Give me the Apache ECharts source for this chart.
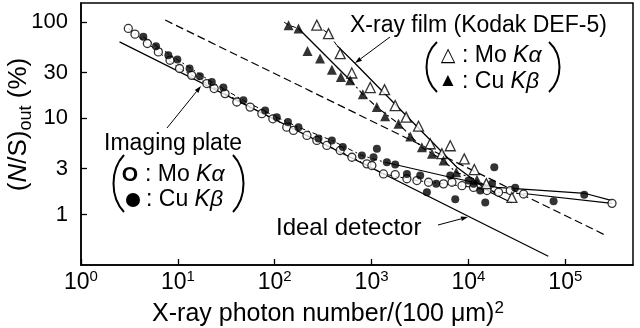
<!DOCTYPE html>
<html>
<head>
<meta charset="utf-8">
<script src="https://cdn.jsdelivr.net/npm/echarts@6/dist/echarts.min.js"></script>
<style>
html,body{margin:0;padding:0;background:#fff;}
#chart{width:640px;height:328px;}
</style>
</head>
<body>
<div id="chart"></div>
<script>
// values: [photons per (100 um)^2, (N/S)out in %]
var xTicks = [1, 10, 100, 1000, 10000, 100000];
var yTicks = [1, 3, 10, 30, 100];

// imaging plate, Mo K-alpha (open circles)
var ipMo = [[3.08,86],[3.61,75],[4.84,60],[6.29,49],[8.3,40.2],[10.4,33],[13.9,28],[19.9,23],
  [23.7,20.4],[30.7,18.1],[40.6,14.8],[55.7,13.1],[73.6,11.2],[95.6,9.9],[133,8.1],[156,7.5],
  [215,6.65],[272,5.9],[345,5.24],[474,4.64],[626,3.95],[894,3.37],[1007,3.24],[1327,2.65],
  [1753,2.61],[2316,2.36],[2938,2.26],[3871,2.17],[5530,2.09],[6760,2.17],[8570,2.0],
  [11290,1.92],[15530,1.78],[20470,1.71],[27030,1.78],[37100,1.64],[303600,1.31]];
// imaging plate, Cu K-beta (filled circles)
var ipCu = [[4.4,70.3],[5.95,56.2],[7.98,45.3],[9.88,40.8],[13.2,33],[16.9,27.4],[22.4,23.9],
  [29.5,20.9],[47.5,15.4],[79.6,12.1],[105,10.3],[137,9.15],[176,8.1],[283,6.2],[389,5.9],
  [505,5.03],[794,4.12],[1047,3.95],[1135,4.83],[1438,3.51],[1754,3.32],[2316,2.65],[3177,2.55],
  [3726,1.71],[4649,2.09],[6486,2.55],[7310,1.45],[10030,2.26],[11290,2.09],[13240,1.78],
  [14920,1.34],[17500,2.09],[18490,3.11],[30420,1.9],[75700,1.38],[157000,1.61]];
// X-ray film, Mo K-alpha (open triangles)
var filmMo = [[272,93],[359,76],[474,47],[625,29.6],[968,20.9],[1360,19.9],[1754,13.6],[2275,10.3],
  [3055,8.3],[4030,5.45],[5320,4.3],[6490,5.2],[9050,3.8],[11500,2.94],[15300,2.1],[28100,1.51]];
// X-ray film, Cu K-beta (filled triangles)
var filmCu = [[139,93],[176,86],[218,50],[294,41.9],[389,32],[482,26.9],[601,24.9],[812,17.8],
  [1133,13.1],[1380,10.5],[1897,8.8],[2506,6.5],[3306,5.0],[4197,4.28],[5533,3.65],[7480,2.75],
  [12240,2.3]];

// curves
var idealLine = [[2.5,62.4],[66700,0.37]];
var refDashed = [[7.4,105],[270000,0.6]];
var ipMoLink = [[3.08,86],[10.4,33],[30.7,18.1],[95.6,9.9],[272,5.9],[626,3.95],[1327,2.65],
  [2938,2.26],[5530,2.09],[11290,1.92],[20470,1.71],[37100,1.64]];
var ipMoCurve = [[37100,1.66],[303600,1.31]];
var ipCuLink = [[4.4,70.3],[9.88,40.8],[22.4,23.9],[47.5,15.4],[105,10.3],[176,8.1],[389,5.9],
  [794,4.12],[1380,3.5]];
var ipCuCurve = [[1380,3.5],[6000,2.49],[19700,1.92],[161000,1.66],[303600,1.4]];
var filmMoLink = [[272,93],[359,76],[440,57]];
var filmMoCurve = [[440,57],[677,37.2],[7600,3.11],[16800,1.71],[28000,1.33]];
var filmCuLink = [[125,100],[139,93],[176,86]];
var filmCuCurve = [[176,86],[601,24.9]];
var filmCuTail = [[601,24.9],[812,17.8],[1133,13.1],[1897,8.8],[3306,5.0],[5533,3.65],
  [7480,2.75],[12240,2.3],[20000,1.6]];

var FONT = '"Liberation Sans", Arial, "DejaVu Sans", sans-serif';

function lineSeries(pts, type, width) {
  return {
    type: 'line', data: pts, symbol: 'none', silent: true, z: 2,
    lineStyle: {color: '#000', width: width || 1.2, type: type}
  };
}
function dotSeries(pts, symbol, size, filled) {
  return {
    type: 'scatter', data: pts, symbol: symbol, symbolSize: size, z: 3,
    itemStyle: {color: filled ? '#000' : '#fff', borderColor: '#000', borderWidth: filled ? 0 : 1.3}
  };
}
function arrow(x1, y1, x2, y2) {
  var a = Math.atan2(y2 - y1, x2 - x1), L = 7, W = 2.3;
  var bx = x2 - L * Math.cos(a), by = y2 - L * Math.sin(a);
  var px = -Math.sin(a) * W, py = Math.cos(a) * W;
  return [
    {type: 'line', shape: {x1: x1, y1: y1, x2: bx, y2: by}, style: {stroke: '#000', lineWidth: 1}},
    {type: 'polygon', shape: {points: [[x2, y2], [bx + px, by + py], [bx - px, by - py]]}, style: {fill: '#000'}}
  ];
}
function paren(x, y1, y2, bulge) {
  var h = y2 - y1;
  return {type: 'bezierCurve',
    shape: {x1: x, y1: y1, x2: x, y2: y2, cpx1: x + bulge, cpy1: y1 + h * 0.26, cpx2: x + bulge, cpy2: y2 - h * 0.26},
    style: {stroke: '#000', lineWidth: 2, fill: null}};
}
function txt(x, y, s, size, extra) {
  var st = {text: s, x: 0, y: 0, fill: '#000', fontSize: size, fontFamily: FONT,
    align: 'left', verticalAlign: 'middle',
    rich: {i: {fontStyle: 'italic', fontSize: size, fontFamily: FONT}}};
  if (extra) for (var k in extra) st[k] = extra[k];
  return {type: 'text', x: x, y: y, style: st};
}

var graphics = [];
graphics.push(txt(350, 26, 'X-ray film (Kodak DEF-5)', 23));
graphics.push(paren(437, 42, 92, -14), paren(549, 42, 92, 14));
graphics.push(txt(448, 56, '△', 19, {align: 'center'}), txt(462, 56, ': Mo {i|Kα}', 23));
graphics.push(txt(448, 81, '▲', 19, {align: 'center'}), txt(462, 82, ': Cu {i|Kβ}', 23));
graphics.push(txt(104, 144, 'Imaging plate', 23));
graphics.push(paren(124, 155, 212, -14), paren(233, 155, 212, 14));
graphics.push(txt(130, 175, 'O', 21, {align: 'center', fontWeight: 'bold'}), txt(145, 175, ': Mo {i|Kα}', 23));
graphics.push({type: 'circle', shape: {cx: 133, cy: 200, r: 7}, style: {fill: '#000'}}, txt(146, 200, ': Cu {i|Kβ}', 23));
graphics.push(txt(276, 228, 'Ideal detector', 24));
graphics = graphics.concat(arrow(167, 128, 201, 86), arrow(390, 37, 355, 63), arrow(438, 225, 468, 217));

var chart = echarts.init(document.getElementById('chart'), null, {renderer: 'canvas'});
chart.setOption({
  animation: false,
  backgroundColor: '#fff',
  textStyle: {fontFamily: FONT, color: '#000'},
  grid: {left: 81, right: 7, top: 3, bottom: 63, show: true, borderColor: '#000', borderWidth: 1.5,
    containLabel: false, outerBoundsMode: 'none'},
  xAxis: {
    type: 'log', logBase: 10, min: 1, max: 500000,
    name: 'X-ray photon number/(100 μm){s|2}',
    nameLocation: 'middle', nameGap: 29,
    nameTextStyle: {fontSize: 25, color: '#000', fontFamily: FONT, lineHeight: 30, padding: [0, 58, 0, 0],
      rich: {s: {fontSize: 17, lineHeight: 17, verticalAlign: 'top', fontFamily: FONT}}},
    axisLine: {lineStyle: {color: '#000', width: 1.5}},
    axisTick: {inside: true, length: 6, customValues: xTicks, lineStyle: {color: '#000', width: 1.3}},
    minorTick: {show: false},
    splitLine: {show: false},
    axisLabel: {
      customValues: xTicks, margin: 4, color: '#000',
      formatter: function (v) { return '{b|10}{s|' + Math.round(Math.log(v) / Math.LN10) + '}'; },
      rich: {
        b: {fontSize: 23, lineHeight: 28, fontFamily: FONT, color: '#000'},
        s: {fontSize: 15, lineHeight: 15, verticalAlign: 'top', fontFamily: FONT, color: '#000'}
      }
    }
  },
  yAxis: {
    type: 'log', logBase: 10, min: 0.3, max: 158,
    name: '({i|N}/S){sub|out} (%)',
    nameLocation: 'middle', nameRotate: 90, nameGap: 46, nameMoveOverlap: false,
    nameTextStyle: {fontSize: 26, color: '#000', fontFamily: FONT, lineHeight: 32, padding: [0, 0, 0, 19],
      rich: {
        i: {fontSize: 26, fontStyle: 'italic', fontFamily: FONT, lineHeight: 32},
        sub: {fontSize: 18, lineHeight: 18, verticalAlign: 'bottom', fontFamily: FONT}
      }},
    axisLine: {lineStyle: {color: '#000', width: 1.5}},
    axisTick: {inside: true, length: 6, customValues: yTicks, lineStyle: {color: '#000', width: 1.3}},
    minorTick: {show: false},
    splitLine: {show: false},
    axisLabel: {customValues: yTicks, margin: 13, fontSize: 22, color: '#000', fontFamily: FONT}
  },
  graphic: graphics,
  series: [
    lineSeries(idealLine, 'solid', 1.2),
    lineSeries(refDashed, [8, 4], 1.2),
    lineSeries(ipMoLink, [5, 3, 2, 3], 1),
    lineSeries(ipMoCurve, 'solid', 1.2),
    lineSeries(ipCuLink, [5, 3, 2, 3], 1),
    lineSeries(ipCuCurve, 'solid', 1.2),
    lineSeries(filmMoLink, [5, 3], 1),
    lineSeries(filmMoCurve, 'solid', 1.3),
    lineSeries(filmCuLink, [5, 3], 1),
    lineSeries(filmCuCurve, 'solid', 1.3),
    lineSeries(filmCuTail, [6, 3, 2, 3], 1.1),
    dotSeries(ipMo, 'circle', 8, false),
    dotSeries(ipCu, 'circle', 8, true),
    dotSeries(filmMo, 'triangle', 10, false),
    dotSeries(filmCu, 'triangle', 10, true)
  ]
});
</script>
</body>
</html>
